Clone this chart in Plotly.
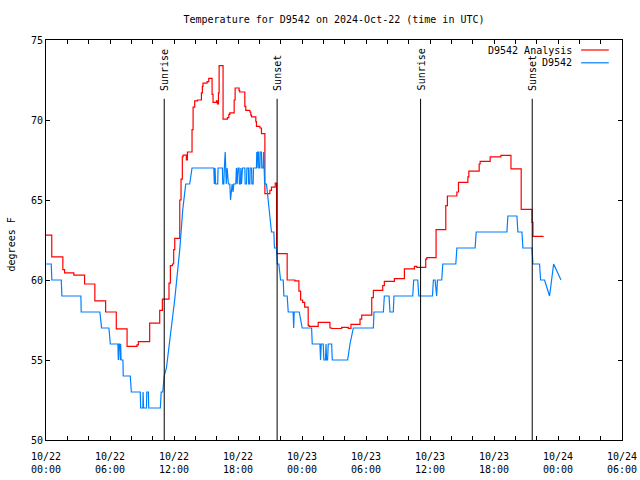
import plotly.graph_objects as go
from datetime import datetime, timedelta

START = datetime(2024, 10, 22, 0, 0)
END = START + timedelta(hours=54)

# D9542 Analysis (red): hours after 2024-10-22 00:00 UTC, degrees F (stepped)
analysis_hours = [0.0, 0.54, 1.58, 1.74, 2.61, 3.62, 4.58, 5.59, 6.59, 7.6, 8.53, 8.66, 9.72, 10.66, 10.91,
                  11.53, 11.66, 11.85, 11.97, 12.07, 12.54, 12.66, 12.78, 12.85, 13.16, 13.26, 13.69, 13.79,
                  13.94, 14.2, 14.57, 14.66, 14.72, 15.1, 15.26, 15.57, 15.66, 15.98, 16.07, 16.17, 16.23,
                  16.6, 17.01, 17.14, 17.23, 17.64, 17.73, 18.1, 18.16, 18.64, 18.73, 19.11, 19.2, 19.27,
                  19.67, 19.73, 20.05, 20.2, 20.52, 20.99, 21.14, 21.49, 21.62, 22.61, 23.33, 23.71, 23.87,
                  24.06, 24.25, 24.58, 24.68, 25.52, 26.62, 26.78, 27.72, 28.34, 28.59, 29.44, 29.6, 30.54,
                  30.69, 31.57, 31.72, 32.66, 33.6, 34.54, 34.76, 35.6, 35.7, 36.57, 37.48, 37.63, 38.52,
                  38.67, 39.55, 39.64, 40.61, 40.7, 41.64, 42.65, 43.59, 44.55, 45.56, 45.65, 46.65]
analysis_temps = [62.8, 61.45, 60.65, 60.45, 60.3, 59.75, 58.7, 58.0, 56.95, 55.85, 55.95, 56.15, 57.3, 58.1, 58.8,
                  59.8, 60.9, 61.0, 61.9, 62.6, 65.0, 66.3, 67.7, 67.8, 67.5, 68.0, 69.4, 70.8,
                  71.2, 71.25, 71.7, 72.1, 72.3, 72.4, 72.6, 71.6, 71.1, 71.2, 71.0, 71.7, 73.4,
                  70.05, 70.15, 70.35, 70.45, 71.25, 72.0, 71.85, 71.75, 70.85, 70.6, 70.5, 70.3, 70.2,
                  69.9, 69.6, 69.5, 69.15, 65.4, 65.6, 65.8, 66.05, 61.65, 60.0, 59.95, 59.3, 58.75,
                  58.6, 58.3, 57.15, 57.1, 57.35, 57.0, 56.97, 57.04, 56.98, 57.23, 57.55, 57.8, 58.9,
                  59.35, 59.65, 59.92, 60.08, 60.69, 60.85, 60.79, 61.3, 61.4, 63.15, 64.65, 65.25, 65.5,
                  66.1, 66.45, 66.8, 67.25, 67.42, 67.69, 67.79, 66.94, 64.42, 63.6, 62.73, 62.73]

# D9542 observations (blue): hours after 2024-10-22 00:00 UTC, degrees F
obs_hours = [0.0, 0.49, 0.55, 1.43, 1.49, 3.27, 3.3, 5.05, 5.15, 5.21, 5.9, 6.03, 6.74, 6.78, 6.84, 6.93, 6.96,
             7.0, 7.04, 7.21, 7.24, 7.9, 8.0, 8.84, 8.87, 9.08, 9.1, 9.15, 9.42, 9.45, 9.6, 9.63, 10.72, 10.8,
             10.95, 11.08, 11.29, 11.6, 12.07, 12.54, 12.82, 13.1, 13.47, 13.69, 15.73, 15.78, 15.85, 15.9,
             16.1, 16.13, 16.54, 16.57, 16.67, 16.72, 16.8, 16.85, 16.9, 16.98, 17.1, 17.23, 17.3, 17.45,
             17.54, 17.6, 17.79, 17.85, 17.92, 18.0, 18.1, 18.13, 18.23, 18.27, 18.33, 18.42, 18.64, 18.67,
             18.8, 18.83, 18.98, 19.0, 19.11, 19.14, 19.27, 19.3, 19.42, 19.45, 19.73, 19.76, 19.79, 19.85,
             19.92, 19.95, 20.05, 20.08, 20.2, 20.23, 20.36, 20.4, 20.5, 20.67, 20.83, 21.0, 21.14, 21.36,
             21.42, 21.61, 21.68, 21.83, 21.99, 22.24, 22.3, 22.61, 22.71, 23.17, 23.22, 23.27, 23.74, 24.02,
             24.9, 24.96, 25.68, 25.74, 25.8, 25.99, 26.05, 26.2, 26.25, 26.3, 26.4, 26.46, 26.78, 26.84,
             28.28, 28.5, 28.81, 30.69, 30.75, 31.63, 31.72, 32.16, 32.25, 32.56, 32.62, 34.38, 34.47, 34.85,
             34.95, 36.23, 36.32, 36.48, 36.57, 36.62, 36.7, 37.1, 37.2, 38.42, 38.52, 40.23, 40.33, 43.21,
             43.3, 44.15, 44.24, 44.62, 44.71, 45.56, 45.65, 46.27, 46.37, 46.74, 47.21, 47.59, 48.28]
obs_temps = [61, 61, 60, 60, 59, 59, 58, 58, 57.4, 57, 57, 56, 56, 55, 56, 56, 55,
             56, 55, 55, 54, 54, 53, 53, 52, 52, 53, 52, 52, 53, 53, 52, 52, 53,
             53, 54, 54.5, 56.2, 58.8, 61.9, 64.4, 66, 66, 67, 67, 66, 67, 66,
             66, 67, 67, 66, 66, 67, 68, 67, 66, 67, 66, 66, 65, 66,
             65.5, 66, 66, 67, 66, 67, 67, 66, 66, 67, 66, 67, 67, 66,
             66, 67, 67, 66, 66, 67, 67, 66, 66, 67, 67, 68, 67, 68,
             68, 67, 67, 68, 68, 67, 67, 68, 66, 66, 65, 64, 63, 63,
             62, 62, 61, 61, 60, 60, 59, 59, 58, 58, 57, 58, 58, 57,
             57, 56, 56, 55, 56, 56, 55, 55, 56, 55, 55, 56, 56, 55,
             55, 56, 57, 57, 58, 58, 59, 59, 58, 58, 59, 59, 60, 60,
             59, 59, 60, 60, 59, 59, 60, 60, 61, 61, 62, 62, 63, 63,
             64, 64, 63, 63, 62, 62, 61, 61, 60, 60, 59, 61, 60]

event_names = ["Sunrise", "Sunset", "Sunrise", "Sunset"]
event_times = ["2024-10-22 11:05", "2024-10-22 21:40", "2024-10-23 11:07", "2024-10-23 21:35"]

x_tick_vals = [START + timedelta(hours=6 * i) for i in range(10)]
x_tick_labels = ["10/22<br>00:00", "10/22<br>06:00", "10/22<br>12:00", "10/22<br>18:00",
                 "10/23<br>00:00", "10/23<br>06:00", "10/23<br>12:00", "10/23<br>18:00",
                 "10/24<br>00:00", "10/24<br>06:00"]
y_tick_vals = [50, 55, 60, 65, 70, 75]

RED = "#ff0000"
BLUE = "#0080ff"
FONT = "DejaVu Sans Mono"

def to_times(hours):
    return [START + timedelta(hours=h) for h in hours]

fig = go.Figure()
fig.add_trace(go.Scatter(x=to_times(analysis_hours), y=analysis_temps, mode="lines",
                         line=dict(color=RED, width=1.2, shape="hv"), name="D9542 Analysis",
                         showlegend=False))
fig.add_trace(go.Scatter(x=to_times(obs_hours), y=obs_temps, mode="lines",
                         line=dict(color=BLUE, width=1.2), name="D9542", showlegend=False))

for name, t in zip(event_names, event_times):
    fig.add_shape(type="line", xref="x", yref="paper", x0=t, x1=t, y0=0, y1=0.853,
                  line=dict(color="black", width=1))
    fig.add_annotation(x=t, y=0.868, xref="x", yref="paper", text=name, showarrow=False,
                       textangle=-90, xanchor="center", yanchor="bottom", xshift=1,
                       font=dict(family=FONT, size=10, color="black"))

# manual legend (text left, sample right)
for i, (label, col) in enumerate([("D9542 Analysis", RED), ("D9542", BLUE)]):
    yy = 0.975 - i * 0.032
    fig.add_annotation(x=0.917, y=yy, xref="paper", yref="paper", text=label, showarrow=False,
                       xanchor="right", yanchor="middle", font=dict(family=FONT, size=10, color="black"))
    fig.add_shape(type="line", xref="paper", yref="paper", x0=0.929, x1=0.977, y0=yy, y1=yy,
                  line=dict(color=col, width=1.2))

fig.add_annotation(x=-0.06, y=0.49, xref="paper", yref="paper", text="degrees F", showarrow=False,
                   textangle=-90, xanchor="center", yanchor="middle",
                   font=dict(family=FONT, size=10, color="black"))

fig.update_layout(
    width=640, height=480, autosize=False,
    margin=dict(l=46, r=18, t=40, b=40, autoexpand=False),
    paper_bgcolor="white", plot_bgcolor="white",
    showlegend=False,
    title=dict(text="Temperature for D9542 on 2024-Oct-22 (time in UTC)", x=0.5, xref="paper",
               xanchor="center", y=1 - 19 / 480, yref="container", yanchor="middle",
               font=dict(family=FONT, size=10, color="black")),
    font=dict(family=FONT, size=10, color="black"),
)
fig.update_xaxes(type="date", range=[START, END], showline=True, mirror="allticks", linecolor="black",
                 linewidth=1, ticks="inside", ticklen=4, tickcolor="black", tickwidth=1,
                 tickvals=x_tick_vals, ticktext=x_tick_labels, showgrid=False, zeroline=False,
                 automargin=False, ticklabelstandoff=7,
                 tickfont=dict(family=FONT, size=10, color="black"),
                 minor=dict(ticks="inside", ticklen=4, tickcolor="black", dtick=2 * 3600 * 1000,
                            showgrid=False))
fig.update_yaxes(range=[50, 75], showline=True, mirror="allticks", linecolor="black", linewidth=1,
                 ticks="inside", ticklen=4, tickcolor="black", tickwidth=1, tickvals=y_tick_vals,
                 showgrid=False, zeroline=False, automargin=False,
                 tickfont=dict(family=FONT, size=10, color="black"))

fig.write_html("out.html", config={"displayModeBar": False},
               post_script="document.body.style.margin='0';document.body.style.padding='0';")
